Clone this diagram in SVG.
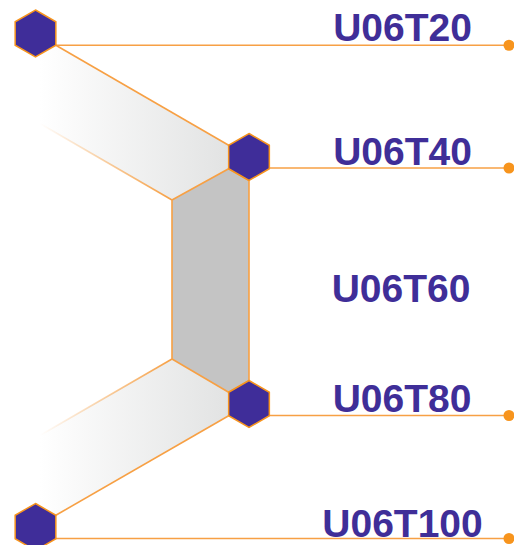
<svg xmlns="http://www.w3.org/2000/svg" width="514" height="545" viewBox="0 0 514 545">
  <style>
    .hex { fill: #3f2d99; stroke: #f7941d; stroke-width: 1.5; }
    .ln { stroke: #f7a044; stroke-width: 1.6; fill: none; }
    .fade { stroke: url(#fadeStroke); stroke-width: 1.6; fill: none; }
    .dot { fill: #f7941d; }
    .lbl { font-family: "Liberation Sans", Arial, sans-serif; font-weight: bold; font-size: 39px; fill: #3f2e98; text-anchor: middle; }
    .band { stroke: none; fill: url(#bandFill); }
  </style>
  <defs>
    <polygon id="hexshape" points="0,-23.5 20.35,-11.75 20.35,11.75 0,23.5 -20.35,11.75 -20.35,-11.75"/>
    <linearGradient id="bandFill" gradientUnits="userSpaceOnUse" x1="40" y1="0" x2="229" y2="0">
      <stop offset="0" stop-color="#ffffff"/>
      <stop offset="1" stop-color="#e2e3e3"/>
    </linearGradient>
    <linearGradient id="fadeStroke" gradientUnits="userSpaceOnUse" x1="40" y1="0" x2="172" y2="0">
      <stop offset="0" stop-color="#f7a044" stop-opacity="0"/>
      <stop offset="1" stop-color="#f7a044" stop-opacity="1"/>
    </linearGradient>
  </defs>
  <rect width="514" height="545" fill="#ffffff"/>

  <g id="bands">
    <polygon class="band" points="35.5,57 55.85,45.25 228.65,145.25 228.65,168.75 172,200 35.5,121"/>
    <polygon class="band" points="172,359 228.65,392.25 228.65,415.75 55.85,515.25 35.5,503.5 35.5,438"/>
    <polygon id="core" fill="#c4c4c4" stroke="#f7a044" stroke-width="1.6" points="172,200 228.65,168.75 249,180.5 249,380.5 228.65,392.25 172,359"/>
  </g>

  <g id="connectors">
    <line class="ln" x1="55.85" y1="45.25" x2="228.65" y2="145.25"/>
    <line class="fade" x1="172" y1="200" x2="35.5" y2="121"/>
    <line class="fade" x1="172" y1="359" x2="35.5" y2="438"/>
    <line class="ln" x1="228.65" y1="415.75" x2="55.85" y2="515.25"/>
    <line class="ln" x1="55.85" y1="45.25" x2="509" y2="45.25"/>
    <line class="ln" x1="269.35" y1="168" x2="509" y2="168"/>
    <line class="ln" x1="269.35" y1="415.5" x2="509" y2="415.5"/>
    <line class="ln" x1="55.85" y1="538.5" x2="509" y2="538.5"/>
    <circle class="dot" cx="509" cy="45.25" r="5.5"/>
    <circle class="dot" cx="509" cy="168" r="5.5"/>
    <circle class="dot" cx="509" cy="415.5" r="5.5"/>
    <circle class="dot" cx="509" cy="538.5" r="5.5"/>
  </g>

  <g id="node-u06t20">
    <use href="#hexshape" class="hex" transform="translate(35.5,33.5)"/>
    <text class="lbl" x="402.5" y="41">U06T20</text>
  </g>
  <g id="node-u06t40">
    <use href="#hexshape" class="hex" transform="translate(249,157)"/>
    <text class="lbl" x="402.5" y="165">U06T40</text>
  </g>
  <g id="node-u06t60">
    <text class="lbl" x="401" y="302">U06T60</text>
  </g>
  <g id="node-u06t80">
    <use href="#hexshape" class="hex" transform="translate(249,404)"/>
    <text class="lbl" x="402" y="412">U06T80</text>
  </g>
  <g id="node-u06t100">
    <use href="#hexshape" class="hex" transform="translate(35.5,527)"/>
    <text class="lbl" x="402.5" y="537">U06T100</text>
  </g>
</svg>
